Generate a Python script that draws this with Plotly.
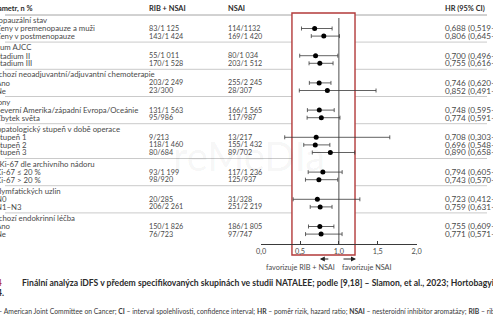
import plotly.graph_objects as go

W, H = 493, 329

# ---------------- data ----------------
col_headers = ["Parametr, n %", "RIB + NSAI", "NSAI", "HR (95% CI)"]

group_titles = [
    "Menopauzální stav",
    "Stadium AJCC",
    "Předchozí neoadjuvantní/adjuvantní chemoterapie",
    "Regiony",
    "Histopatologický stupeň v době operace",
    "Stav Ki-67 dle archivního nádoru",
    "Stav lymfatických uzlin",
    "Předchozí endokrinní léčba",
]
row_labels = [
    ["Ženy v premenopauze a muži", "Ženy v postmenopauze"],
    ["Stadium II", "Stadium III"],
    ["Ano", "Ne"],
    ["Severní Amerika/západní Evropa/Oceánie", "Zbytek světa"],
    ["Stupeň 1", "Stupeň 2", "Stupeň 3"],
    ["Ki-67 ≤ 20 %", "Ki-67 > 20 %"],
    ["N0", "N1–N3"],
    ["Ano", "Ne"],
]
rib_nsai = ["83/1 125", "143/1 424", "55/1 011", "170/1 528", "203/2 249", "23/300",
            "131/1 563", "95/986", "9/213", "118/1 460", "80/684", "93/1 199", "98/920",
            "20/285", "206/2 261", "150/1 826", "76/723"]
nsai = ["114/1132", "169/1 420", "80/1 034", "203/1 512", "255/2 245", "28/307",
        "166/1 565", "117/987", "13/217", "155/1 432", "89/702", "117/1 236", "125/937",
        "31/328", "251/2 219", "186/1 805", "97/747"]
hr = [0.688, 0.806, 0.700, 0.755, 0.746, 0.852, 0.748, 0.774, 0.708, 0.696, 0.890,
      0.794, 0.743, 0.723, 0.759, 0.755, 0.771]
ci_low = [0.519, 0.645, 0.496, 0.616, 0.620, 0.491, 0.595, 0.591, 0.303, 0.548, 0.658,
          0.605, 0.570, 0.412, 0.631, 0.609, 0.571]
ci_high = [0.913, 1.007, 0.986, 0.925, 0.898, 1.478, 0.940, 1.014, 1.655, 0.884, 1.204,
           1.042, 0.985, 1.270, 0.912, 0.936, 1.041]

axis_ticks = [0.0, 0.5, 1.0, 1.5, 2.0]
axis_ticktext = ["0,0", "0,5", "1,0", "1,5", "2,0"]
fav_labels = ["favorizuje RIB + NSAI", "favorizuje NSAI"]

fig_label = "Obr. 4"
caption = ("Finální analýza iDFS v předem specifikovaných skupinách ve studii NATALEE; "
           "podle [9,18] – Slamon, et al., 2023; Hortobagyi, et al., 2024")
caption2 = "2024."
footnote = ("<b>AJCC</b> – American Joint Committee on Cancer; <b>CI</b> – interval spolehlivosti, "
            "confidence interval; <b>HR</b> – poměr rizik, hazard ratio; <b>NSAI</b> – nesteroidní "
            "inhibitor aromatázy; <b>RIB</b> – ribociklib")
watermark = "reMeDIa"

# ---------------- layout helpers ----------------
def fx(p):
    return p / W

def fy(p):
    return 1 - p / H

def fmt(v):
    return f"{v:.3f}".replace(".", ",")

FONT = "Lato"
TXT = "#4a4a4a"
HEAD = "#2b2b2b"
FS_LAB = 7.8
FS_NUM = 7.2
FS_HR = 8.2

# compute row positions (pixels from top)
header_ys, row_ys, sep_ys = [], [], []
y = 20.0
for labels in row_labels:
    header_ys.append(y)
    last = None
    for i in range(len(labels)):
        last = y + 8.5 + 7.6 * i
        row_ys.append(last)
    sep_ys.append(last + 6)
    y = last + 11.1
sep_ys = sep_ys[:-1]

X_LEFT_H = -22
X_LEFT_R = -9.5
X_RIB = 147
X_NSAI = 228
X_HR = 450

fig = go.Figure()

fig.add_trace(go.Scatter(
    x=hr, y=row_ys, mode="markers",
    marker=dict(color="black", size=5),
    error_x=dict(type="data", symmetric=False,
                 array=[h - v for h, v in zip(ci_high, hr)],
                 arrayminus=[v - l for v, l in zip(hr, ci_low)],
                 color="#3a3a3a", thickness=0.8, width=2),
    hoverinfo="skip", showlegend=False,
))

shapes = []
shapes.append(dict(type="line", xref="paper", yref="paper", x0=0, x1=1,
                   y0=fy(15), y1=fy(15), line=dict(color="#9a9a9a", width=0.9), layer="below"))
for s in sep_ys:
    shapes.append(dict(type="line", xref="paper", yref="paper", x0=0, x1=1,
                       y0=fy(s), y1=fy(s), line=dict(color="#c4c4c4", width=0.9), layer="below"))
shapes.append(dict(type="rect", xref="paper", yref="paper", x0=fx(293.5), x1=fx(358),
                   y0=fy(255), y1=fy(13), fillcolor="white",
                   line=dict(color="#b23a3a", width=1.4), layer="below"))
shapes.append(dict(type="line", xref="x", yref="paper", x0=1, x1=1,
                   y0=fy(244), y1=fy(18), line=dict(color="#3a3a3a", width=0.9), layer="below"))

ann = []

def text(x, y, t, size=FS_NUM, color=TXT, anchor="left", bold=False, family=FONT):
    ann.append(dict(xref="paper", yref="paper", x=fx(x), y=fy(y),
                    text=(f"<b>{t}</b>" if bold else t), showarrow=False,
                    xanchor=anchor, yanchor="middle", borderpad=0, borderwidth=0,
                    font=dict(family=family, size=size, color=color)))

ann.append(dict(xref="paper", yref="paper", x=fx(250), y=fy(156), text=watermark,
                showarrow=False, xanchor="center", yanchor="middle",
                font=dict(family=FONT, size=40, color="rgba(0,0,0,0.05)")))

text(-18, 9, col_headers[0], size=7.4, bold=True, color=HEAD)
text(X_RIB, 9, col_headers[1], size=7.4, bold=True, color=HEAD)
text(X_NSAI, 9, col_headers[2], size=7.4, bold=True, color=HEAD)
text(X_HR, 9, col_headers[3], size=7.4, bold=True, color=HEAD)

k = 0
for g, labels in enumerate(row_labels):
    text(X_LEFT_H, header_ys[g], group_titles[g], size=FS_LAB)
    for lab in labels:
        yy = row_ys[k]
        text(X_LEFT_R, yy, lab, size=FS_LAB)
        text(X_RIB, yy, rib_nsai[k], size=FS_NUM)
        text(X_NSAI, yy, nsai[k], size=FS_NUM)
        text(X_HR, yy, f"{fmt(hr[k])} ({fmt(ci_low[k])}–{fmt(ci_high[k])})", size=FS_HR)
        k += 1

ann.append(dict(xref="paper", yref="paper", x=fx(322), y=fy(259), ax=10, ay=0,
                text="", showarrow=True, arrowhead=2, arrowsize=1, arrowwidth=1,
                arrowcolor="#222"))
ann.append(dict(xref="paper", yref="paper", x=fx(359), y=fy(259), ax=-14, ay=0,
                text="", showarrow=True, arrowhead=2, arrowsize=1, arrowwidth=1,
                arrowcolor="#222"))
text(338, 267, fav_labels[0], size=7.3, anchor="right")
text(345, 267, fav_labels[1], size=7.3, anchor="left")

text(-3, 283, fig_label, size=8.6, color="#b23a3a", anchor="right", bold=True)
text(17, 283, caption, size=8.6, color="#2b2b2b", bold=True)
text(-1.5, 293, caption2, size=8.6, color="#2b2b2b", anchor="right", bold=True)
text(-27, 311, footnote, size=6.8, color="#3a3a3a")

fig.update_layout(
    width=W, height=H,
    margin=dict(l=0, r=0, t=0, b=0),
    paper_bgcolor="white", plot_bgcolor="rgba(0,0,0,0)",
    shapes=shapes, annotations=ann,
    hovermode=False,
    xaxis=dict(domain=[fx(262), fx(421)], range=[0, 2], anchor="free", position=fy(244),
               showline=True, linecolor="#3a3a3a", linewidth=0.9,
               ticks="inside", ticklen=3, tickcolor="#3a3a3a", tickwidth=0.9,
               tickvals=axis_ticks, ticktext=axis_ticktext,
               tickfont=dict(family=FONT, size=7.3, color=TXT),
               showgrid=False, zeroline=False, fixedrange=True),
    yaxis=dict(domain=[0, 1], range=[H, 0], visible=False, fixedrange=True),
)

fig.write_html("out.html")
